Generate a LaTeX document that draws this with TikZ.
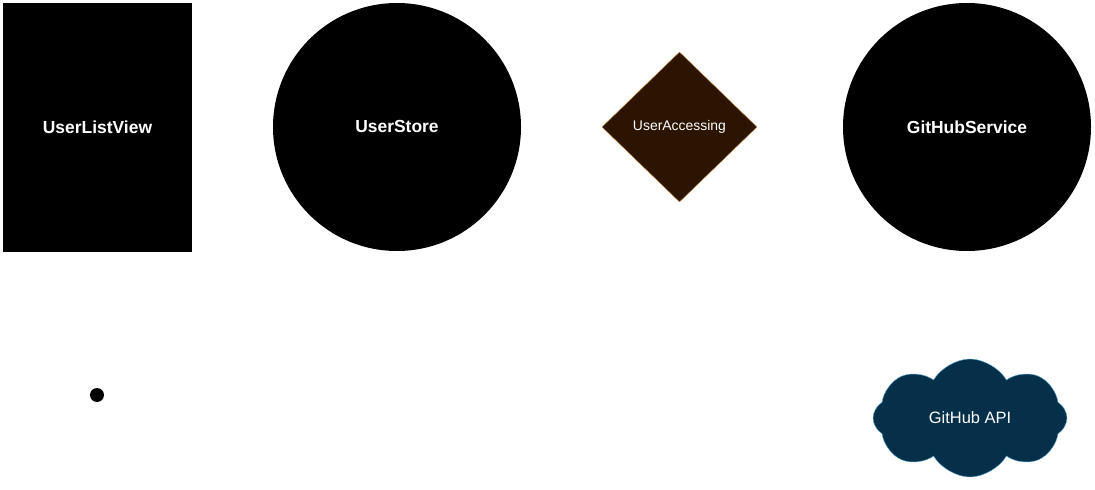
\documentclass[tikz,border=0pt]{standalone}
\usepackage{fontspec}
\setmainfont{Liberation Sans}
\usepackage{tikz}
\usetikzlibrary{positioning, calc, shapes}
\definecolor{accessfill}{HTML}{2B1400}
\definecolor{accessline}{HTML}{C8892E}
\definecolor{apifill}{HTML}{06304A}
\definecolor{apiline}{HTML}{5AA9D6}
\tikzset{view/.style={rectangle, fill=black, text=white, font=\bfseries\fontsize{17.5}{20}\selectfont, minimum width=189bp, minimum height=249bp, inner sep=0}}
\tikzset{store/.style={circle, fill=black, text=white, font=\bfseries\fontsize{17.5}{20}\selectfont, minimum size=248bp, inner sep=0}}
\tikzset{protocol/.style={diamond, fill=accessfill, draw=accessline, text=white, font=\fontsize{14}{16}\selectfont, minimum width=155bp, minimum height=150bp, inner sep=0}}
\tikzset{api/.style={cloud, cloud puffs=8, cloud puff arc=120, aspect=1.6, fill=apifill, draw=apiline, text=white, font=\fontsize{16.5}{19}\selectfont, minimum width=194bp, minimum height=118bp, inner sep=0}}
\tikzset{start/.style={circle, fill=black, minimum size=14bp, inner sep=0}}

\begin{document}
\begin{tikzpicture}[x=1bp, y=-1bp]
      \useasboundingbox (0,0) rectangle (1095,490);

      \node[view] (listview) at (97.5,127.5) {UserListView};
      \node[store] (userstore) at (397,127) {UserStore};
      \node[protocol] (accessing) at (679.5,127) {UserAccessing};
      \node[store] (service) at (967,127) {GitHubService};

      \node[start] (entry) at (97,395) {};
      \node[api] (githubapi) at (970,418) {GitHub API};
      
    \end{tikzpicture}
\end{document}
